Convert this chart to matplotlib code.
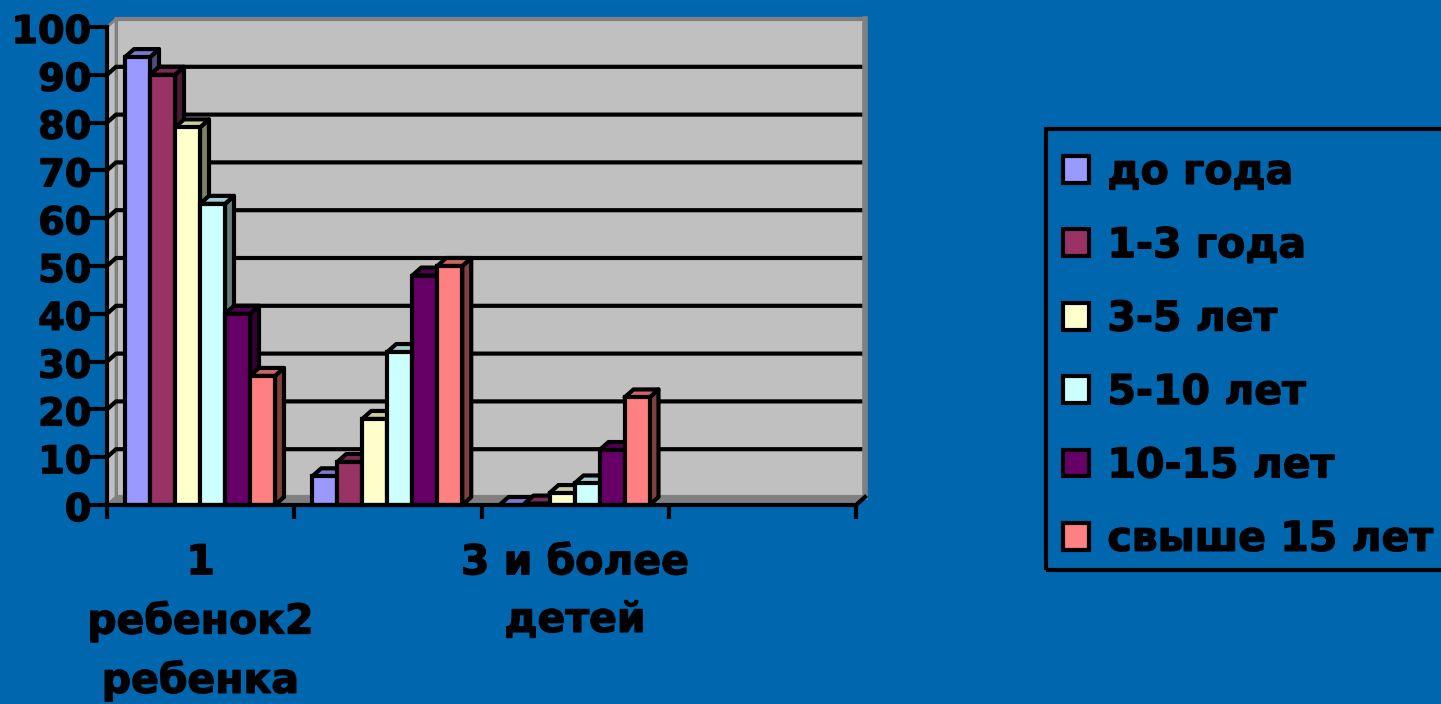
import numpy as np
import matplotlib
matplotlib.use('Agg')
import matplotlib.pyplot as plt
import matplotlib.patheffects as pe
from matplotlib.patches import Polygon, Patch, Rectangle
from matplotlib.transforms import ScaledTranslation

plt.rcParams['font.family'] = ['DejaVu Sans']
plt.rcParams['font.weight'] = 'bold'

# данные
series_names = ['до года', '1-3 года', '3-5 лет', '5-10 лет', '10-15 лет', 'свыше 15 лет']
colors = ['#9999FF', '#993366', '#FFFFCC', '#CCFFFF', '#660066', '#FF8080']
group_1 = [93.7, 90, 79, 63, 40, 27]
group_2 = [6, 9, 18, 32, 48, 50]
group_3 = [0, 0.3, 2.5, 4.5, 11.5, 22.5]
groups = [group_1, group_2, group_3]
cat_labels = ['1\nребенок2\nребенка', '3 и более\nдетей']
cat_pos = [0.5, 2.5]
yticks = list(range(0, 101, 10))

bg = '#0066AE'
W, H = 1441, 704
fig = plt.figure(figsize=(W / 100, H / 100), dpi=100, facecolor=bg)
# передняя плоскость осей
ax = fig.add_axes([107 / W, 1 - 505 / H, 749 / W, 478 / H])
ax.set_xlim(0, 4)
ax.set_ylim(0, 100)
ax.patch.set_visible(False)

# глубина псевдо-3D в единицах данных
dx = 9 / (749 / 4)
dy = 8 / 4.78
lw = 3
heavy = [pe.withStroke(linewidth=1.0, foreground='black')]


def poly(pts, color, z, edge='none', width=0):
    ax.add_patch(Polygon(pts, closed=True, facecolor=color, edgecolor=edge, linewidth=width,
                         zorder=z, clip_on=False, joinstyle='round'))


def shade(c, k):
    rgb = np.array(matplotlib.colors.to_rgb(c)) * k
    return tuple(rgb)


# стены
poly([(dx, dy), (4 + dx, dy), (4 + dx, 100 + dy), (dx, 100 + dy)], '#C0C0C0', 1, '#808080', 3)
poly([(0, 0), (dx, dy), (dx, 100 + dy), (0, 100)], '#C0C0C0', 1, '#808080', 2)
poly([(0, 0), (4, 0), (4 + dx, dy), (dx, dy)], '#808080', 1)

# сетка
for t in yticks[1:-1]:
    ax.plot([0, dx, 4 + dx], [t, t + dy, t + dy], color='black', lw=lw, zorder=2, clip_on=False)
ax.plot([4 + dx, 4 + dx], [dy, 100 + dy], color='#808080', lw=4, zorder=2.5, clip_on=False)

# столбцы
bar_w = 25 / (749 / 4)
start = 18 / (749 / 4)
for g, vals in enumerate(groups):
    for i, v in enumerate(vals):
        x0 = g + start + i * bar_w
        x1 = x0 + bar_w
        c = colors[i]
        z = 3 + g * 10 + i
        poly([(x1, 0), (x1 + dx, dy), (x1 + dx, v + dy), (x1, v)], shade(c, 0.5), z, 'black', lw)
        poly([(x0, v), (x1, v), (x1 + dx, v + dy), (x0 + dx, v + dy)], shade(c, 0.8), z, 'black', lw)
        if v > 0.5:
            ax.bar(x0, v, width=bar_w, align='edge', color=c, edgecolor='black', linewidth=lw,
                   zorder=z, clip_on=False)

# оси
for s in ['top', 'right']:
    ax.spines[s].set_visible(False)
for s in ['left', 'bottom']:
    ax.spines[s].set_linewidth(lw)
    ax.spines[s].set_zorder(60)
ax.plot([4, 4 + dx], [0, dy], color='black', lw=lw, zorder=60, clip_on=False)

ax.set_yticks(yticks)
ax.tick_params(axis='y', length=12, width=lw, pad=2, labelsize=27.5)
ax.set_xticks([0, 1, 2, 3, 4])
ax.set_xticklabels([])
ax.tick_params(axis='x', length=10, width=lw, direction='out')
ax.set_xticks(cat_pos, minor=True)
ax.set_xticklabels(cat_labels, minor=True, fontsize=29.5, fontweight='bold', linespacing=1.57)
ax.tick_params(axis='x', which='minor', length=0, pad=27.5)
for lab in ax.get_yticklabels():
    lab.set_fontweight('bold')
    lab.set_verticalalignment('center')
    lab.set_transform(lab.get_transform() + ScaledTranslation(4 / 100, -6 / 100, fig.dpi_scale_trans))
    lab.set_path_effects(heavy)
for lab in ax.get_xticklabels(minor=True):
    lab.set_path_effects(heavy)

# легенда: рамка уходит за правый край картинки
fig.add_artist(Rectangle((1046 / W, 1 - 570 / H), 420 / W, 441 / H, transform=fig.transFigure,
                         facecolor='none', edgecolor='black', linewidth=lw))
handles = [Patch(facecolor=c, edgecolor='black', linewidth=lw) for c in colors]
leg = fig.legend(handles, series_names, loc='upper left',
                 bbox_to_anchor=(1046 / W, 1 - 136 / H), bbox_transform=fig.transFigure,
                 frameon=False, prop={'size': 29.5, 'weight': 'bold'},
                 handlelength=0.63, handleheight=0.63,
                 handletextpad=0.46, labelspacing=0.815, borderaxespad=0, borderpad=0.41)
for t in leg.get_texts():
    t.set_path_effects(heavy)

fig.savefig('out.png', dpi=100, facecolor=bg)
